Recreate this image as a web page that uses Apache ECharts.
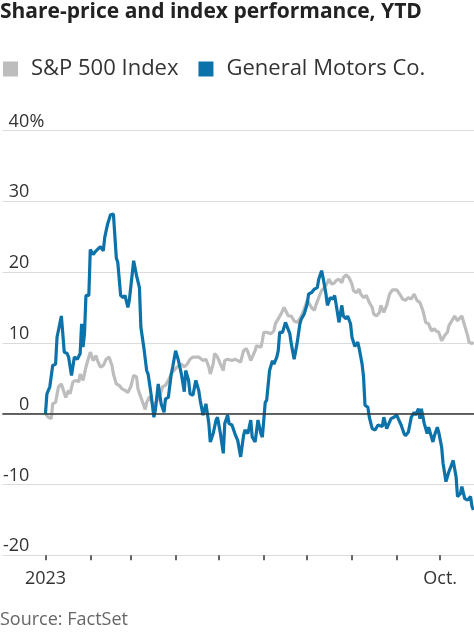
<!DOCTYPE html>
<html><head><meta charset="utf-8">
<script src="https://cdn.jsdelivr.net/npm/echarts@6/dist/echarts.min.js"></script>
<style>html,body{margin:0;padding:0;background:#fff}#c{width:474px;height:632px}</style>
</head><body><div id="c"></div><script>
// x values are days since Jan 1, 2023
const spDays = [0,2,4,5,7,9,11,14,16,17,19,21,23,24,26,28,30,31,33,35,36,38,40,42,44,46,47,49,51,53,55,57,59,61,63,64,66,69,70,72,74,76,78,80,81,83,85,87,88,91,92,94,96,98,100,102,104,106,107,109,111,113,114,116,117,119,121,123,124,126,127,129,131,133,135,137,139,140,142,145,146,149,150,151,153,154,156,158,159,161,163,165,166,168,170,172,174,176,177,179,181,182,184,186,187,189,191,193,195,196,198,200,201,203,205,206,208,210,212,213,215,217,218,220,222,224,226,227,229,231,232,234,236,238,240,243,245,247,249,251,253,255,257,259,261,263,265,267,269,270,272,274,276,278,279,281,283,285,286,288,290,292,293,295,296];
const spValues = [0,-0.5,-0.7,1.4,1.6,3.8,4.2,2.3,3.3,2.8,4.5,4.7,4.5,5.6,4.7,6.6,8,8.7,7.5,8.2,7.5,6.6,6.8,7.7,8,6.8,5.6,4.2,4,3.5,3.3,3,3.8,5.4,5.2,3.5,2.3,0.6,1.6,2.4,1.5,1.3,2.2,3.1,3.8,4,4.7,5.6,5.9,6.6,6.6,7,6.6,7,7.7,8,8,8,8,7.5,7.7,6.6,5.6,7,8.5,8,7,6.1,7.5,7.7,7.5,7.5,7.7,7.5,7.3,8.9,9.2,8.7,7.5,8.9,9.6,9.4,10.3,11.5,11.5,11.7,11.3,11.7,12.7,13.4,14.1,15,14.6,13.8,13.8,13.1,12.9,13.4,13.8,14.8,16,15.7,15,14.6,15.3,16.4,17.4,17.8,18.5,19,18.3,18.5,18.8,19,18.5,19.2,19.6,19.2,18.3,17.4,17.1,17.6,16.9,16.4,16.7,15.7,15,14.1,13.8,14.3,15.3,14.3,15.3,16.9,17.5,17.5,16.9,16.2,16,16.4,16.2,16.9,16,15.7,14.6,12.9,12.7,11.7,12,11.7,11.5,10.3,11,11.5,12.4,13.1,13.8,13.1,13.4,13.8,12.4,11,10.1,9.9,10.1];
const gmDays = [0,1,3,5,7,8,11,13,15,16,18,20,22,24,25,26,27,28,30,31,33,35,38,40,41,43,45,47,49,50,52,54,55,57,58,61,63,65,66,68,70,71,73,75,76,78,80,82,83,85,87,88,90,92,94,96,97,99,100,102,104,106,107,109,111,113,114,116,118,119,121,123,124,126,127,129,131,133,135,137,138,140,142,143,145,147,149,150,151,152,153,155,157,158,160,161,162,164,166,167,169,170,172,174,176,177,179,181,182,184,186,188,189,191,192,194,195,197,199,200,201,203,205,206,208,209,211,212,214,216,217,219,220,221,223,224,226,228,230,231,233,234,236,237,239,241,243,244,246,248,249,251,253,255,256,258,259,260,262,264,265,266,268,269,271,272,274,275,277,279,280,282,284,285,287,288,290,292,294,295,296];
const gmValues = [0,2.8,3.8,6.8,7,10.8,13.8,8.7,8.5,8,5.4,8,7.7,8.5,12.7,9.4,11.3,16.7,16.7,23.2,22.5,23,23.6,23,24.9,26.8,28.1,28.2,22,21.4,16.7,16.4,16.7,15,16,21.6,19.5,17.8,12.2,9.4,6.1,5.6,2.8,-0.5,0.5,4.2,1.4,0.2,2.1,2.3,5.6,6.6,8.9,7.5,5.6,3.1,6.1,4.7,2.8,2.6,4.7,3.3,1.9,-0.2,1.4,-1.4,-4,-2.8,-0.9,-0.5,-2.8,-5.6,-1.4,-0.2,-1.4,-1.6,-2.8,-3.8,-6.1,-3.1,-2.3,-2.8,-0.9,-3.3,-4,-0.9,-2.8,-3.3,-0.9,1.6,1.9,6.1,7.5,7,8,8.9,11.5,11.5,12.9,12.7,11.3,9.9,7.7,9.9,12.7,13.4,14.1,15.5,16.9,17.1,17.6,17.8,19,20.2,19.2,16.9,15.3,16.4,16.2,16.7,15.5,12.9,15.3,13.8,13.4,13.8,12.7,10.8,9.5,10.1,9.2,7,5.2,1.2,0.9,-0.5,-2.1,-2.3,-1.6,-1.4,-1.8,-0.5,-2.1,-1.9,-0.7,-0.5,-0.2,-0.7,-1.6,-2.8,-3.1,-2.6,-0.5,0.2,-0.2,0.7,-0.7,0.7,-1.4,-2.8,-1.9,-2.6,-4,-3.1,-1.9,-2.6,-4.7,-7,-9.6,-8.2,-7.7,-6.6,-8.9,-11.7,-11.3,-10.3,-12,-12.2,-11.7,-13.1,-13.6];
const yTicks = [-20,-10,0,10,20,30,40];
const monthStartDays = [0,31,59,90,120,151,181,212,243,273];
const xLabelDays = [0,273];
const xLabelText = ['2023','Oct.'];
const seriesNames = ['S&P 500 Index','General Motors Co.'];

const FONT = '"Open Sans", "Noto Sans", sans-serif';
const chart = echarts.init(document.getElementById('c'), null, {renderer:'canvas'});
chart.setOption({
  animation:false,
  backgroundColor:'#fff',
  textStyle:{fontFamily:FONT},
  title:[
    {text:'Share-price and index performance, YTD', left:0, top:2, padding:0,
     textStyle:{fontSize:21, fontWeight:'bold', color:'#222', fontFamily:FONT}},
    {text:'Source: FactSet', left:0, top:611, padding:0,
     textStyle:{fontSize:18, fontWeight:'normal', color:'#666', fontFamily:FONT}}
  ],
  legend:{
    data:seriesNames, left:3, top:58, padding:0, icon:'rect', itemWidth:15, itemHeight:15, itemGap:20,
    textStyle:{fontSize:22, color:'#333', fontFamily:FONT, padding:[0,0,0,8]}
  },
  grid:{left:0, right:0, top:130.5, bottom:76.7, containLabel:false},
  xAxis:{
    type:'value', min:-29.8, max:296.4,
    splitLine:{show:false},
    axisLine:{show:false, onZero:false},
    axisTick:{show:true, customValues:monthStartDays, length:5, lineStyle:{color:'#333', width:1.5}},
    axisLabel:{customValues:xLabelDays, margin:15, fontSize:18, color:'#333', fontFamily:FONT,
      formatter:v=>xLabelText[xLabelDays.indexOf(v)]}
  },
  yAxis:{
    type:'value', min:yTicks[0], max:yTicks[yTicks.length-1], interval:10,
    axisLine:{show:false}, axisTick:{show:false},
    splitLine:{lineStyle:{color:'#dcdcdc', width:1}},
    axisLabel:{inside:true, margin:6, verticalAlign:'bottom', fontSize:18, color:'#333', fontFamily:FONT,
      formatter:v=>'{n|'+v+'}'+(v===40?'%':''),
      rich:{n:{width:21, align:'right', fontSize:18, color:'#333', fontFamily:FONT}}}
  },
  series:[
    {name:seriesNames[0], type:'line', showSymbol:false, z:2, color:'#bdbdbd',
     lineStyle:{width:3.2, color:'#bdbdbd'},
     data:spDays.map((d,i)=>[d, spValues[i]]),
     markLine:{silent:true, symbol:['none','none'], label:{show:false},
       lineStyle:{color:'#333', width:1.5, type:'solid'}, data:[{yAxis:0}]}},
    {name:seriesNames[1], type:'line', showSymbol:false, z:3, color:'#0c72aa',
     lineStyle:{width:3.2, color:'#0c72aa'},
     data:gmDays.map((d,i)=>[d, gmValues[i]])}
  ]
});
</script></body></html>
